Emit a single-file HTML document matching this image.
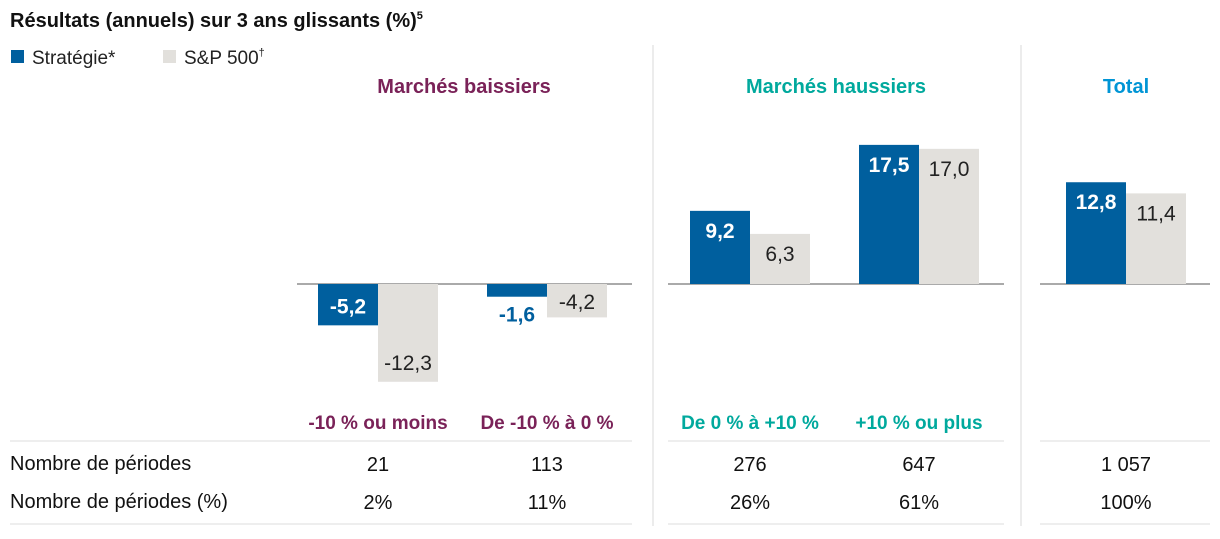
<!DOCTYPE html>
<html><head><meta charset="utf-8"><style>
body{margin:0;background:#fff;font-family:"Liberation Sans",sans-serif;}
svg text{font-family:"Liberation Sans",sans-serif;}
</style></head><body>
<svg id="c" width="1220" height="534" xmlns="http://www.w3.org/2000/svg">
<text x="10" y="27" font-size="20" font-weight="bold" fill="#111">Résultats (annuels) sur 3 ans glissants (%)<tspan font-size="11" dy="-8">5</tspan></text>
<rect x="11" y="50" width="13" height="13" fill="#005f9e"/>
<text x="32" y="64" font-size="19" fill="#222">Stratégie*</text>
<rect x="163" y="50" width="13" height="13" fill="#e2e0dc"/>
<text x="184" y="64" font-size="19" fill="#222">S&amp;P 500<tspan font-size="11" dy="-8">†</tspan></text>
<text x="464" y="93" font-size="20" font-weight="bold" fill="#7a2258" text-anchor="middle">Marchés baissiers</text>
<text x="836" y="93" font-size="20" font-weight="bold" fill="#00a99d" text-anchor="middle">Marchés haussiers</text>
<text x="1126" y="93" font-size="20" font-weight="bold" fill="#0095d5" text-anchor="middle">Total</text>
<line x1="653" y1="45" x2="653" y2="526" stroke="#e6e6e6" stroke-width="1.5"/>
<line x1="1021" y1="45" x2="1021" y2="526" stroke="#e6e6e6" stroke-width="1.5"/>
<g id="marks"></g>
</svg>
<script>
const categories=["-10 % ou moins","De -10 % à 0 %","De 0 % à +10 %","+10 % ou plus","Total"];
const strategy=[-5.2,-1.6,9.2,17.5,12.8];
const sp500=[-12.3,-4.2,6.3,17.0,11.4];
const periods=["21","113","276","647","1 057"];
const periodsPct=["2%","11%","26%","61%","100%"];
const catColors=["#7a2258","#7a2258","#00a99d","#00a99d",null];
const groupCenter=[378,547,750,919,1126];
const baseY=284, scale=7.95, bw=60;
const y=v=>baseY-v*scale;
const g=document.getElementById('marks');
const NS="http://www.w3.org/2000/svg";
function mk(t,a,txt){const e=document.createElementNS(NS,t);for(const k in a)e.setAttribute(k,a[k]);if(txt!=null)e.textContent=txt;g.appendChild(e);return e;}
const fmt=v=>v.toFixed(1).replace('.',',');
[[297,632],[668,1004],[1040,1210]].forEach((r,i)=>{
 let e=mk('line',{x1:r[0],x2:r[1],y1:baseY,y2:baseY,stroke:'#777','stroke-width':1.3});
 
 
 e=mk('line',{x1:i==0?10:r[0],x2:r[1],y1:441,y2:441,stroke:'#e3e3e3','stroke-width':1.3});
 
 
 e=mk('line',{x1:i==0?10:r[0],x2:r[1],y1:524,y2:524,stroke:'#e3e3e3','stroke-width':1.3});
 
 
});
let e=mk('text',{x:10,y:470,'font-size':20,fill:'#111'},'Nombre de périodes');


e=mk('text',{x:10,y:508,'font-size':20,fill:'#111'},'Nombre de périodes (%)');


categories.forEach((c,i)=>{
 const cx=groupCenter[i];
 [[strategy[i],cx-bw,'#005f9e'],[sp500[i],cx,'#e2e0dc']].forEach((s,j)=>{
  const v=s[0],top=Math.min(y(v),baseY),h=Math.abs(y(v)-baseY);
  let r=mk('rect',{x:s[1],y:top,width:bw,height:h,fill:s[2]});
  
  
  let ly,fill=j==0?'#fff':'#222',fw=j==0?'bold':'normal';
  if(v>=0) ly=top+27;
  else if(h<30){ly=y(v)+25;if(j==0)fill='#005f9e';}
  else ly=y(v)-12;
  if(v<0&&j==1&&h<40) ly=baseY+25;
  let t=mk('text',{x:s[1]+bw/2,y:ly,'font-size':21,'font-weight':fw,fill:fill,'text-anchor':'middle'},fmt(v));
  
  
 });
 if(catColors[i]){
  let t=mk('text',{x:cx,y:429,'font-size':19,'font-weight':'bold',fill:catColors[i],'text-anchor':'middle'},c);
  
  
 }
 let t=mk('text',{x:cx,y:471,'font-size':20,fill:'#111','text-anchor':'middle'},periods[i]);
 
 
 t=mk('text',{x:cx,y:509,'font-size':20,fill:'#111','text-anchor':'middle'},periodsPct[i]);
 
 
});
</script>
</body></html>
